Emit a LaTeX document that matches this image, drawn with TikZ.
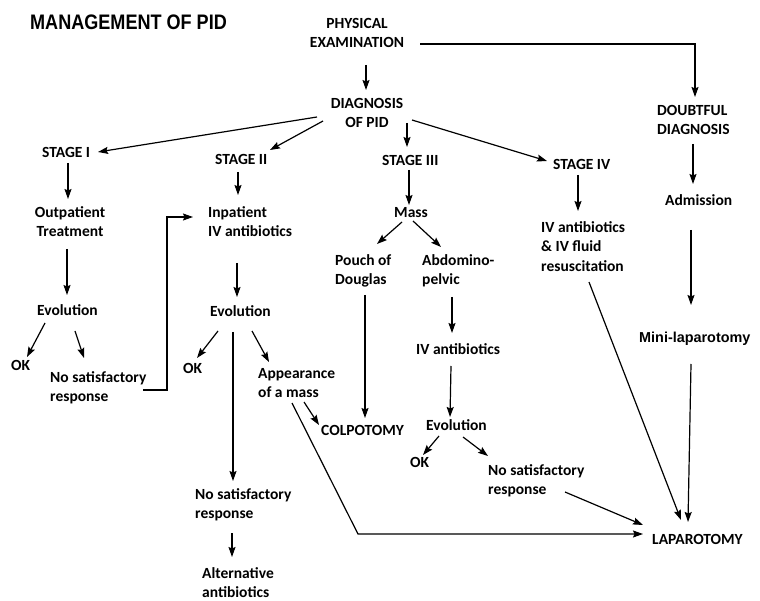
\documentclass[tikz,border=0pt]{standalone}
\usepackage{fontspec}
\usetikzlibrary{arrows.meta,calc}
\newfontfamily\cbf{Carlito}
\newfontfamily\arialf{Liberation Sans}
\newcommand\strt{\rule{0pt}{12pt}}
\begin{document}
\begin{tikzpicture}[x=1pt,y=-1pt,
  lbl/.style={anchor=north west,inner sep=0pt,align=left,font=\cbf\bfseries\fontsize{15.5}{19.5}\selectfont},
  lblc/.style={lbl,anchor=north,align=center},
  arr/.style={line width=1.2pt,-{Stealth[length=10pt,width=7pt,inset=1.5pt]}},
  ln/.style={line width=1.2pt}]
\useasboundingbox (0,0) rectangle (760,601);
% title
\node[anchor=base west,inner sep=0pt,font=\arialf\bfseries\fontsize{21}{24}\selectfont] (title) at (30,30) {\scalebox{0.86}[1]{MANAGEMENT OF PID}};
% nodes
\node[lblc] (pe) at (357,16) {\strt PHYSICAL\\EXAMINATION};
\node[lblc] (dx) at (367,96) {\strt DIAGNOSIS\\OF PID};
\node[lbl] (s1) at (42,145) {\strt STAGE I};
\node[lbl] (s2) at (215,152) {\strt STAGE II};
\node[lbl] (s3) at (382,153) {\strt STAGE III};
\node[lbl] (s4) at (553,157) {\strt STAGE IV};
\node[lbl] (dd) at (657,103) {\strt DOUBTFUL\\DIAGNOSIS};
\node[lbl] (adm) at (665,193) {\strt Admission};
\node[lbl,font=\arialf\bfseries\fontsize{14.4}{18}\selectfont] (mini) at (639,330) {\strt Mini-laparotomy};
\node[lbl] (lap) at (652,532) {\strt LAPAROTOMY};
\node[lblc] (out) at (70,205) {\strt Outpatient\\Treatment};
\node[lbl] (e1) at (37,303) {\strt Evolution};
\node[lbl] (ok1) at (11,358) {\strt OK};
\node[lbl] (ns1) at (50,370) {\strt No satisfactory\\response};
\node[lbl] (inp) at (208,205) {\strt Inpatient\\IV antibiotics};
\node[lbl] (e2) at (210,304) {\strt Evolution};
\node[lbl] (ok2) at (183,361) {\strt OK};
\node[lbl] (app) at (258,366) {\strt Appearance\\of a mass};
\node[lbl] (ns2) at (195,487) {\strt No satisfactory\\response};
\node[lbl] (alt) at (202,566) {\strt Alternative\\antibiotics};
\node[lbl] (mass) at (394,205) {\strt Mass};
\node[lbl] (pod) at (335,253) {\strt Pouch of\\Douglas};
\node[lbl] (abd) at (422,253) {\strt Abdomino-\\pelvic};
\node[lbl] (iv3) at (416,342) {\strt IV antibiotics};
\node[lbl] (e3) at (426,418) {\strt Evolution};
\node[lbl] (ok3) at (410,455) {\strt OK};
\node[lbl] (ns3) at (488,463) {\strt No satisfactory\\response};
\node[lbl] (col) at (321,423) {\strt COLPOTOMY};
\node[lbl] (iv4) at (541,220) {\strt IV antibiotics\\\& IV fluid\\resuscitation};
% connectors
\draw[arr] ($(pe.north)+(9,49)$) -- ($(dx.north)+(-1,-6)$);
\draw[arr] ($(pe.north)+(63,28)$) -| ($(dd.north west)+(38,-6)$);
\draw[arr] ($(dx.north)+(-50,21)$) -- ($(s1.north west)+(56,7)$);
\draw[arr] ($(dx.north)+(-44,25)$) -- ($(s2.north west)+(55,-2)$);
\draw[arr] ($(dx.north)+(40,27)$) -- ($(s3.north west)+(25,-6)$);
\draw[arr] ($(dx.north)+(45,24)$) -- ($(s4.north west)+(-6,4)$);
\draw[arr] ($(dd.north west)+(36,41)$) -- ($(adm.north west)+(28,-9)$);
\draw[arr] ($(adm.north west)+(26,37)$) -- ($(mini.north west)+(52,-25)$);
\draw[arr] ($(mini.north west)+(52,34)$) -- ($(lap.north west)+(36,-10)$);
\draw[arr] ($(iv4.north west)+(48,62)$) -- ($(lap.north west)+(29,-12)$);
\draw[arr] ($(s4.north west)+(25,18)$) -- ($(iv4.north west)+(37,-9)$);
\draw[arr] ($(s3.north west)+(27,17)$) -- ($(mass.north west)+(15,0)$);
\draw[arr] ($(mass.north west)+(8,17)$) -- ($(pod.north west)+(42,-9)$);
\draw[arr] ($(mass.north west)+(19,16)$) -- ($(abd.north west)+(19,-6)$);
\draw[arr] ($(pod.north west)+(30,42)$) -- ($(col.north west)+(44,-5)$);
\draw[arr] ($(abd.north west)+(30,44)$) -- ($(iv3.north west)+(36,-9)$);
\draw[arr] ($(iv3.north west)+(35,24)$) -- ($(e3.north west)+(24,-1)$);
\draw[arr] ($(e3.north west)+(13,18)$) -- ($(ok3.north west)+(13,0)$);
\draw[arr] ($(e3.north west)+(37,19)$) -- ($(ns3.north west)+(0,-7)$);
\draw[arr] ($(ns3.north west)+(77,29)$) -- ($(lap.north west)+(-9,-7)$);
\draw[arr] ($(s1.north west)+(26,18)$) -- ($(out.north)+(-2,-6)$);
\draw[arr] ($(out.north)+(-3,44)$) -- ($(e1.north west)+(30,-8)$);
\draw[arr] ($(e1.north west)+(8,20)$) -- ($(ok1.north west)+(16,-1)$);
\draw[arr] ($(e1.north west)+(38,28)$) -- ($(ns1.north west)+(34,-12)$);
\draw[arr] ($(ns1.north west)+(93,20)$) -- ++(24,0) |- ($(inp.north west)+(-15,12)$);
\draw[arr] ($(s2.north west)+(23,20)$) -- ($(inp.north west)+(30,-10)$);
\draw[arr] ($(inp.north west)+(29,58)$) -- ($(e2.north west)+(27,-7)$);
\draw[arr] ($(e2.north west)+(8,27)$) -- ($(ok2.north west)+(14,-3)$);
\draw[arr] ($(e2.north west)+(42,27)$) -- ($(app.north west)+(11,-4)$);
\draw[arr] ($(e2.north west)+(23,28)$) -- ($(ns2.north west)+(38,-6)$);
\draw[arr] ($(ns2.north west)+(37,46)$) -- ($(alt.north west)+(30,-9)$);
\draw[arr] ($(app.north west)+(46,36)$) -- ($(col.north west)+(-2,2)$);
\draw[arr] ($(app.north west)+(34,37)$) -- ++(66,131) -- ($(lap.north west)+(-9,2)$);
\end{tikzpicture}
\end{document}
